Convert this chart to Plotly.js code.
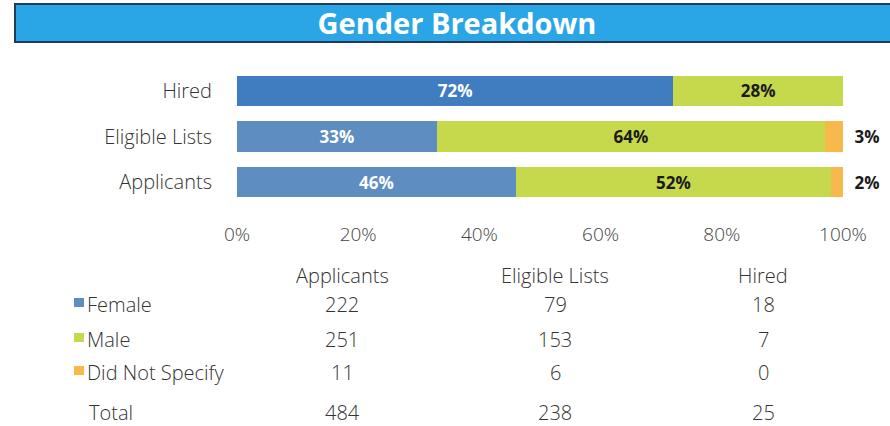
<!DOCTYPE html>
<html>
<head>
<meta charset="utf-8">
<script src="https://cdn.plot.ly/plotly-3.0.1.min.js"></script>
<style>
  html, body { margin: 0; padding: 0; background: #ffffff; }
  #chart { width: 890px; height: 426px; }
</style>
</head>
<body>
<div id="chart"></div>
<script>
// Stage of the hiring process (bottom to top on the category axis)
const categories = ['Applicants', 'Eligible Lists', 'Hired'];

// Share of each stage by gender, in percent
const femalePct = [46, 33, 72];
const malePct = [52, 64, 28];
const notSpecifiedPct = [2, 3, 0];

// Percentage axis ticks
const tickValues = [0, 20, 40, 60, 80, 100];
const tickLabels = ['0%', '20%', '40%', '60%', '80%', '100%'];

// Head counts shown in the table under the bars
const tableColumns = ['Applicants', 'Eligible Lists', 'Hired'];
const tableRowNames = ['Female', 'Male', 'Did Not Specify', 'Total'];
const femaleCounts = [222, 79, 18];
const maleCounts = [251, 153, 7];
const notSpecifiedCounts = [11, 6, 0];
const totalCounts = [484, 238, 25];

const chartTitle = 'Gender Breakdown';

// ---- colours and geometry ----
const COL_FEMALE = '#5d8dc1';
const COL_FEMALE_HIRED = '#3f7cc0';
const COL_MALE = '#c6d84b';
const COL_NS = '#f7b84c';
const W = 890, H = 426;
const M = { l: 237, r: 47, t: 68, b: 221 };
const plotW = W - M.l - M.r, plotH = H - M.t - M.b;
const px2x = x => (x - M.l) / plotW;
const px2y = y => (H - M.b - y) / plotH;

const pctText = arr => arr.map(v => (v ? v + '%' : ''));

const barFont = { family: 'Open Sans, sans-serif', size: 17, weight: 700 };
const lightFont = 'Open Sans, sans-serif';

const traces = [
  {
    type: 'bar', orientation: 'h', name: 'Female',
    y: categories, x: femalePct,
    marker: { color: categories.map(c => (c === 'Hired' ? COL_FEMALE_HIRED : COL_FEMALE)) },
    text: pctText(femalePct), textposition: 'inside', insidetextanchor: 'middle',
    textfont: Object.assign({ color: '#ffffff' }, barFont),
    constraintext: 'none', hoverinfo: 'skip'
  },
  {
    type: 'bar', orientation: 'h', name: 'Male',
    y: categories, x: malePct,
    marker: { color: COL_MALE },
    text: pctText(malePct), textposition: 'inside', insidetextanchor: 'middle',
    textfont: Object.assign({ color: '#1b1b1b' }, barFont),
    constraintext: 'none', hoverinfo: 'skip'
  },
  {
    type: 'bar', orientation: 'h', name: 'Did Not Specify',
    y: categories, x: notSpecifiedPct,
    marker: { color: COL_NS },
    text: pctText(notSpecifiedPct).map(t => (t ? '\u2002' + t : '')),
    textposition: 'outside',
    textfont: Object.assign({ color: '#1b1b1b' }, barFont),
    constraintext: 'none', cliponaxis: false, hoverinfo: 'skip'
  }
];

const tableFont = { family: lightFont, size: 20, weight: 350, color: '#333333' };
const colX = [342, 555, 763];
const headerY = 275;
const rowY = [304, 339, 372, 412];
const rowCounts = [femaleCounts, maleCounts, notSpecifiedCounts, totalCounts];
const rowSwatches = [COL_FEMALE, COL_MALE, COL_NS, null];

const annotations = [];
const shapes = [];

// title banner
shapes.push({
  type: 'rect', xref: 'paper', yref: 'paper', layer: 'below',
  x0: px2x(15), x1: px2x(900), y0: px2y(42), y1: px2y(4),
  fillcolor: '#2aa6e6', line: { color: '#203b5c', width: 2 }
});

// table header
tableColumns.forEach((name, i) => {
  annotations.push({
    xref: 'paper', yref: 'paper', x: px2x(colX[i]), y: px2y(headerY),
    xanchor: 'center', yanchor: 'middle', showarrow: false,
    text: name, font: tableFont
  });
});

// table rows
tableRowNames.forEach((name, r) => {
  const sw = rowSwatches[r];
  if (sw) {
    shapes.push({
      type: 'rect', xref: 'paper', yref: 'paper',
      x0: px2x(74), x1: px2x(84), y0: px2y(rowY[r] + 3), y1: px2y(rowY[r] - 6),
      fillcolor: sw, line: { width: 0 }
    });
  }
  annotations.push({
    xref: 'paper', yref: 'paper', x: px2x(sw ? 85 : 87), y: px2y(rowY[r]),
    xanchor: 'left', yanchor: 'middle', showarrow: false,
    text: name, font: tableFont
  });
  rowCounts[r].forEach((v, i) => {
    annotations.push({
      xref: 'paper', yref: 'paper', x: px2x(colX[i]), y: px2y(rowY[r]),
      xanchor: 'center', yanchor: 'middle', showarrow: false,
      text: String(v), font: tableFont
    });
  });
});

const layout = {
  width: W, height: H,
  margin: M,
  paper_bgcolor: '#ffffff', plot_bgcolor: '#ffffff',
  barmode: 'stack', bargap: 0.34,
  showlegend: false,
  title: {
    text: chartTitle,
    x: 457 / W, xanchor: 'center', xref: 'container',
    y: 1 - 24 / H, yanchor: 'middle', yref: 'container',
    font: { family: 'Open Sans, sans-serif', size: 29, weight: 700, color: '#ffffff' }
  },
  xaxis: {
    range: [0, 100], tickvals: tickValues, ticktext: tickLabels,
    showgrid: false, zeroline: false, showline: false,
    ticks: 'outside', ticklen: 12, tickcolor: 'rgba(0,0,0,0)',
    tickfont: { family: lightFont, size: 19, weight: 300, color: '#444444' },
    fixedrange: true
  },
  yaxis: {
    categoryorder: 'array', categoryarray: categories,
    showgrid: false, zeroline: false, showline: false,
    ticks: 'outside', ticklen: 20, tickcolor: 'rgba(0,0,0,0)',
    tickfont: { family: lightFont, size: 20, weight: 300, color: '#333333' },
    fixedrange: true
  },
  shapes: shapes,
  annotations: annotations
};

Plotly.newPlot('chart', traces, layout, { displayModeBar: false, staticPlot: true });
</script>
</body>
</html>
